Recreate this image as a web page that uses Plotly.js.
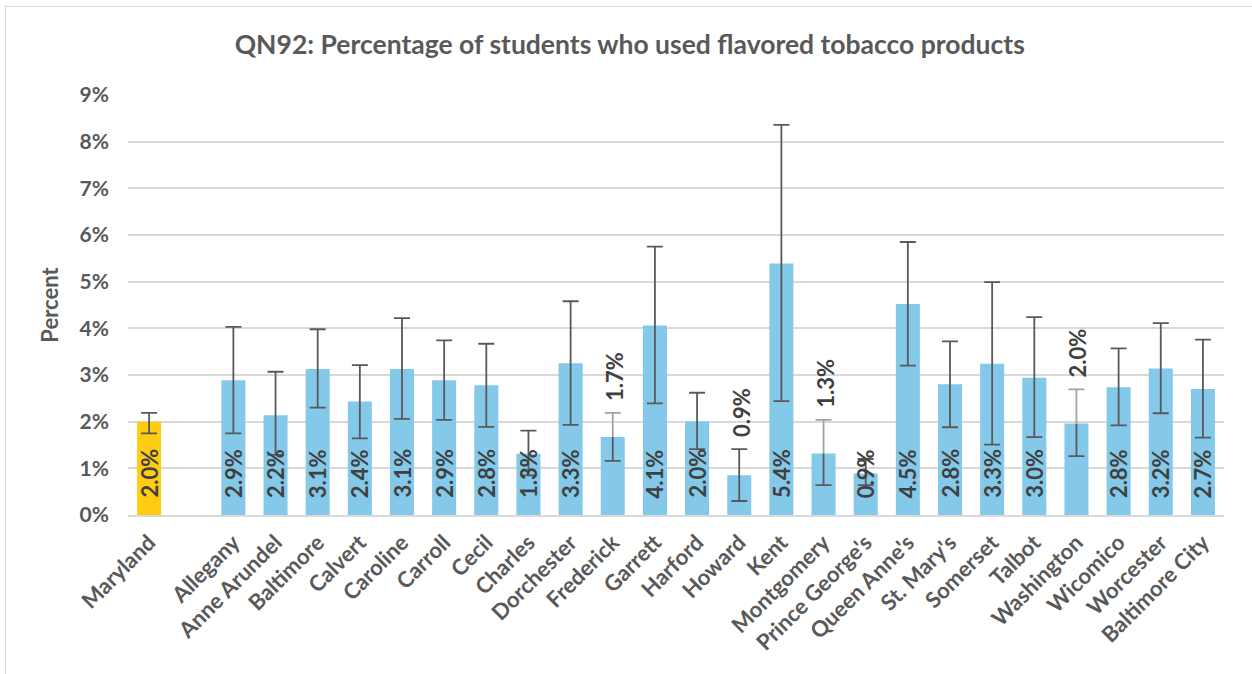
<!DOCTYPE html>
<html>
<head>
<meta charset="utf-8">
<script src="https://cdn.plot.ly/plotly-3.0.1.min.js"></script>
<style>
  html, body { margin: 0; padding: 0; background: #fff; }
  #wrap { position: relative; width: 1252px; height: 674px; overflow: hidden; }
  #border { position: absolute; left: 5px; top: 6px; width: 1400px; height: 800px; border: 1.5px solid #D9D9D9; box-sizing: border-box; pointer-events: none; z-index: 5; }
  #chart { position: absolute; left: 0; top: 0; width: 1252px; height: 674px; }
</style>
</head>
<body>
<div id="wrap">
  <div id="chart"></div>
  <div id="border"></div>
</div>
<script>
const categories = ["Maryland", " ", "Allegany", "Anne Arundel", "Baltimore", "Calvert", "Caroline", "Carroll", "Cecil", "Charles", "Dorchester", "Frederick", "Garrett", "Harford", "Howard", "Kent", "Montgomery", "Prince George's", "Queen Anne's", "St. Mary's", "Somerset", "Talbot", "Washington", "Wicomico", "Worcester", "Baltimore City"];
const values =   [2.0, null, 2.89, 2.14, 3.13, 2.43, 3.13, 2.89, 2.78, 1.31, 3.25, 1.67, 4.06, 2.01, 0.85, 5.39, 1.32, 0.89, 4.52, 2.80, 3.24, 2.94, 1.96, 2.74, 3.14, 2.70];
const upperCI =  [2.19, null, 4.03, 3.07, 3.98, 3.21, 4.22, 3.74, 3.67, 1.81, 4.58, 2.19, 5.75, 2.62, 1.41, 8.36, 2.04, 1.20, 5.85, 3.72, 4.99, 4.24, 2.69, 3.57, 4.11, 3.76];
const lowerCI =  [1.75, null, 1.75, 1.29, 2.30, 1.64, 2.06, 2.04, 1.89, 0.85, 1.93, 1.16, 2.39, 1.41, 0.30, 2.44, 0.64, 0.64, 3.20, 1.88, 1.51, 1.67, 1.26, 1.92, 2.18, 1.66];
const labels =   ["2.0%", "", "2.9%", "2.2%", "3.1%", "2.4%", "3.1%", "2.9%", "2.8%", "1.3%", "3.3%", "1.7%", "4.1%", "2.0%", "0.9%", "5.4%", "1.3%", "0.9%", "4.5%", "2.8%", "3.3%", "3.0%", "2.0%", "2.8%", "3.2%", "2.7%"];
const labelOutside = ["Frederick", "Howard", "Montgomery", "Washington"];
const lightUpperErr = ["Frederick", "Montgomery", "Washington"];

const FONT = "Lato, 'Open Sans', sans-serif";
const TXT = "#595959";
const LBL = "#404040";
const ERR_DARK = "#595959";
const ERR_LIGHT = "#A3A3A3";

const barColors = categories.map(c => c === "Maryland" ? "#FFCC14" : "#84C9EA");
const isLight = i => lightUpperErr.includes(categories[i]);

const normIdx = categories.map((c, i) => i).filter(i => values[i] != null && !isLight(i));
const lightIdx = categories.map((c, i) => i).filter(i => values[i] != null && isLight(i));

const barTrace = {
  type: "bar",
  x: categories,
  y: values,
  marker: { color: barColors },
  hoverinfo: "x+y"
};

function errTrace(idx, yOf, plusOf, minusOf, color, capWidth) {
  return {
    type: "scatter", mode: "markers",
    x: idx.map(i => categories[i]),
    y: idx.map(yOf),
    marker: { size: 1, opacity: 0 },
    error_y: {
      type: "data", symmetric: false,
      array: idx.map(plusOf), arrayminus: idx.map(minusOf),
      color: color, thickness: 1.8, width: capWidth
    },
    hoverinfo: "skip"
  };
}

const traces = [
  barTrace,
  errTrace(normIdx, i => values[i], i => upperCI[i] - values[i], i => values[i] - lowerCI[i], ERR_DARK, 8),
  errTrace(lightIdx, i => values[i], i => 0, i => values[i] - lowerCI[i], ERR_DARK, 0),
  errTrace(lightIdx, i => lowerCI[i], i => 0, i => 0, ERR_DARK, 8),
  errTrace(lightIdx, i => values[i], i => upperCI[i] - values[i], i => 0, ERR_LIGHT, 0),
  errTrace(lightIdx, i => upperCI[i], i => 0, i => 0, ERR_LIGHT, 8)
];

const annotations = [];
categories.forEach((c, i) => {
  if (values[i] == null) return;
  const outside = labelOutside.includes(c);
  annotations.push({
    x: c, xref: "x",
    y: outside ? upperCI[i] : 0, yref: "y",
    yanchor: "bottom", xanchor: "center",
    yshift: outside ? 10 : 15,
    xshift: outside ? 2 : 0,
    text: labels[i], textangle: -90, showarrow: false,
    font: { family: FONT, size: 22, color: LBL, weight: 700 }
  });
});

const layout = {
  width: 1252, height: 674,
  margin: { l: 128, r: 28, t: 95, b: 159 },
  paper_bgcolor: "#ffffff", plot_bgcolor: "#ffffff",
  showlegend: false,
  bargap: 0.43,
  title: {
    text: "QN92: Percentage of students who used flavored tobacco products",
    font: { family: FONT, size: 26.5, color: TXT, weight: 700 },
    x: 0.503, xanchor: "center", y: 0.933, yanchor: "middle"
  },
  xaxis: {
    type: "category", categoryorder: "array", categoryarray: categories,
    range: [-0.5, categories.length - 0.5], autorange: false,
    tickangle: -45,
    tickfont: { family: FONT, size: 22, color: TXT, weight: 700 },
    ticklabelstandoff: 4,
    showgrid: false, zeroline: false,
    showline: true, linecolor: "#D9D9D9", linewidth: 2,
    ticks: "", ticklen: 0
  },
  yaxis: {
    range: [0, 9], dtick: 1, tick0: 0,
    ticksuffix: "%",
    tickfont: { family: FONT, size: 21, color: TXT, weight: 700 },
    ticklabelstandoff: 18,
    showgrid: true, gridcolor: "#D9D9D9", gridwidth: 2,
    zeroline: false, showline: false, ticks: "",
    title: { text: "Percent", font: { family: FONT, size: 22, color: TXT, weight: 700 }, standoff: 14 }
  },
  annotations: annotations
};

Plotly.newPlot("chart", traces, layout, { displayModeBar: false, staticPlot: true });
</script>
</body>
</html>
